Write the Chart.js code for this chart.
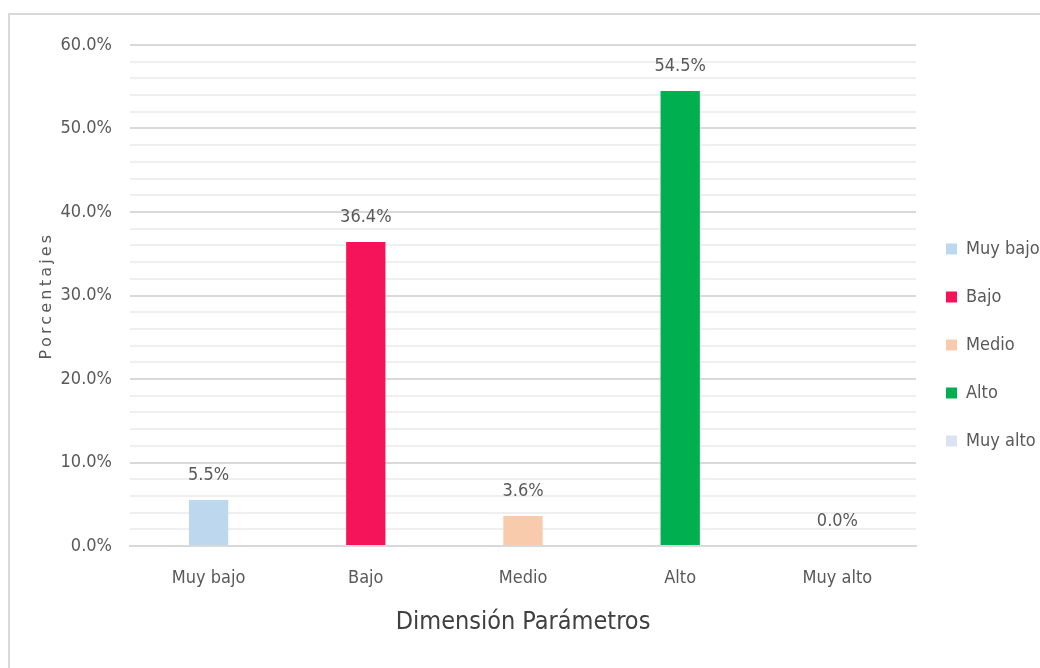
<!DOCTYPE html>
<html>
<head>
<meta charset="utf-8">
<script src="https://cdn.jsdelivr.net/npm/chart.js@4.4.1/dist/chart.umd.min.js"></script>
<style>
  html, body { margin: 0; padding: 0; background: #ffffff; overflow: hidden; }
  #frame { position: absolute; left: 8px; top: 13px; width: 1040px; height: 660px;
           border-left: 2px solid #d9d9d9; border-top: 2px solid #d9d9d9; background: #fff; }
  #c { display: block; }
</style>
</head>
<body>
<div id="frame"><canvas id="c" width="1030" height="653"></canvas></div>
<script>
const categories = ['Muy bajo', 'Bajo', 'Medio', 'Alto', 'Muy alto'];
const percentages = [5.5, 36.4, 3.6, 54.5, 0.0];
const barColors = ['#bdd7ee', '#f5145a', '#f8cbad', '#00b050', '#dae3f3'];
const yTickValues = [0, 10, 20, 30, 40, 50, 60];
const xAxisTitle = 'Dimensión Parámetros';
const yAxisTitle = 'Porcentajes';

const NARROW = "'Liberation Sans Narrow', 'Arial Narrow', 'DejaVu Sans Condensed', sans-serif";
const TEXT = '#595959';

const dataLabels = {
  id: 'dataLabels',
  afterDatasetsDraw(chart) {
    const ctx = chart.ctx;
    const meta = chart.getDatasetMeta(0);
    ctx.save();
    ctx.font = '18px ' + NARROW;
    ctx.fillStyle = TEXT;
    ctx.textAlign = 'center';
    ctx.textBaseline = 'middle';
    meta.data.forEach((bar, i) => {
      ctx.fillText(percentages[i].toFixed(1) + '%', bar.x, bar.y - 25);
    });
    ctx.restore();
  }
};

const spacedTitle = {
  id: 'spacedTitle',
  beforeDraw(chart) {
    const s = chart.scales.y;
    if (s && !s._spaced) {
      const orig = s.drawTitle.bind(s);
      s.drawTitle = function () {
        const c = this.ctx;
        const prev = c.letterSpacing;
        c.letterSpacing = '3.2px';
        orig();
        c.letterSpacing = prev || '0px';
      };
      s._spaced = true;
    }
  }
};

new Chart(document.getElementById('c'), {
  type: 'bar',
  data: {
    labels: categories,
    datasets: [{
      data: percentages,
      backgroundColor: barColors,
      borderWidth: 0,
      barPercentage: 0.25,
      categoryPercentage: 1.0
    }]
  },
  options: {
    responsive: false,
    animation: false,
    devicePixelRatio: 1,
    layout: { padding: { top: 30, bottom: 23, left: 0, right: 0 } },
    plugins: {
      tooltip: { enabled: false },
      legend: {
        position: 'right',
        align: 'center',
        maxWidth: 124,
        labels: {
          boxWidth: 11,
          boxHeight: 11,
          padding: 30,
          color: TEXT,
          font: { family: NARROW, size: 18 },
          generateLabels() {
            return categories.map((c, i) => ({
              text: c,
              fillStyle: barColors[i],
              strokeStyle: barColors[i],
              lineWidth: 0,
              hidden: false,
              index: i,
              fontColor: TEXT
            }));
          }
        }
      }
    },
    scales: {
      x: {
        grid: { display: false, drawTicks: false },
        border: { display: true, color: '#d9d9d9', width: 2 },
        ticks: { color: TEXT, font: { family: NARROW, size: 18 }, padding: 22 },
        title: {
          display: true, text: xAxisTitle, color: '#404040',
          font: { family: NARROW, size: 25 },
          padding: { top: 0, bottom: 8 }
        },
        afterFit(s) { s.height = 99; }
      },
      y: {
        min: 0, max: 60,
        grid: {
          drawTicks: false,
          color: (c) => (yTickValues.includes(c.tick.value) ? '#d9d9d9' : '#efefef'),
          lineWidth: 2
        },
        border: { display: false },
        ticks: {
          stepSize: 2,
          autoSkip: false,
          padding: 18,
          color: TEXT,
          font: { family: NARROW, size: 18 },
          callback: (v) => (yTickValues.includes(v) ? v.toFixed(1) + '%' : '')
        },
        title: {
          display: true, text: yAxisTitle, color: TEXT,
          font: { family: "'DejaVu Sans', sans-serif", size: 16 },
          padding: { top: 27, bottom: 0 }
        },
        afterFit(s) { s.width = 120; }
      }
    }
  },
  plugins: [dataLabels, spacedTitle]
});
</script>
</body>
</html>
